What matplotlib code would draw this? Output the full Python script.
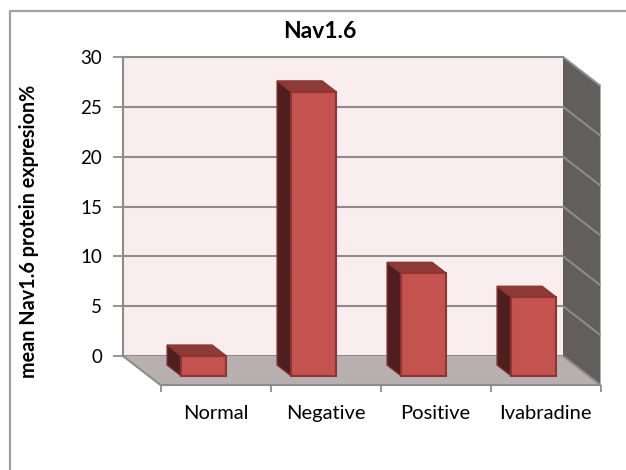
import matplotlib
matplotlib.use("Agg")
import matplotlib.pyplot as plt
from matplotlib.patches import Polygon
from matplotlib.transforms import ScaledTranslation

categories = ["Normal", "Negative", "Positive", "Ivabradine"]
values = [2.0, 28.5, 10.3, 7.9]
yticks = [0, 5, 10, 15, 20, 25, 30]

plt.rcParams["font.family"] = ["Lato", "DejaVu Sans"]

W, H = 626, 470
fig = plt.figure(figsize=(W / 100, H / 100), dpi=100)

# frame round the whole chart, only top and left show
bg = fig.add_axes([0, 0, 1, 1])
bg.set_xlim(0, W)
bg.set_ylim(H, 0)
bg.axis("off")
bg.plot([9.5, 9.5, W], [H, 10.5, 10.5], color="#a0a0a0", lw=1.6)

# back wall of the 3d box
ax = fig.add_axes([123 / W, 1 - 356 / H, 440 / W, 299 / H])
ax.set_xlim(0, 4)
ax.set_ylim(0, 30)
ax.set_facecolor("#F9EDED")
for s in ["top", "right", "bottom"]:
    ax.spines[s].set_visible(False)
ax.spines["left"].set_color("#8c8c8c")
ax.spines["left"].set_linewidth(1.5)
ax.set_yticks(yticks)
ax.tick_params(axis="y", color="#8c8c8c", width=1.3, length=7, labelsize=13.5, pad=8)
ax.set_xticks([])
ax.grid(axis="y", color="#8c8c8c", lw=1.5, clip_on=False)
ax.set_axisbelow(True)


# depth is 0 at the wall and 1 at the front of the floor
def shift(d):
    return ax.transData + ScaledTranslation(37.5 * d / 100, -29 * d / 100, fig.dpi_scale_trans)


def poly(points, d_list, **kw):
    # points in data coords, each with own depth -> pixels
    pix = [shift(d).transform(p) for p, d in zip(points, d_list)]
    ax.add_patch(Polygon(pix, closed=len(pix) > 2, transform=None, clip_on=False, **kw))


# floor and right wall
poly([(0, 0), (4, 0), (4, 0), (0, 0)], [0, 0, 1, 1], fc="#B8B0B0", ec="none", zorder=1)
poly([(4, 0), (4, 30), (4, 30), (4, 0)], [0, 0, 1, 1], fc="#625E5C", ec="none", zorder=1)
for t in yticks:
    poly([(4, t), (4, t)], [0, 1], fc="none", ec="#8c8c8c", lw=1.5, zorder=2)

# front floor edge with ticks and category labels
poly([(0, 0), (4, 0)], [1, 1], fc="none", ec="#8c8c8c", lw=1.5, zorder=2)
poly([(0, 0), (0, 0)], [0, 1], fc="none", ec="#8c8c8c", lw=1.5, zorder=2)
tick_len = 7 / 9.97
for i in range(5):
    poly([(i, 0), (i, -tick_len)], [1, 1], fc="none", ec="#8c8c8c", lw=1.3, zorder=2)
for i, name in enumerate(categories):
    ax.text(i + 0.5, -2.0, name, transform=shift(1), ha="center", va="top", fontsize=14.5,
            clip_on=False)

# bars
width = 45 / 110
d1, d2 = 0.31, 0.69
for i, v in enumerate(values):
    x0 = i + 0.5 - width / 2
    x1 = x0 + width
    # left side
    poly([(x0, 0), (x0, v), (x0, v), (x0, 0)], [d1, d1, d2, d2], fc="#4E1F1E", ec="#7a2e2c", lw=1, zorder=3)
    # top
    poly([(x0, v), (x1, v), (x1, v), (x0, v)], [d1, d1, d2, d2], fc="#8E3A38", ec="#8a3634", lw=1, zorder=3)
    # front
    poly([(x0, 0), (x1, 0), (x1, v), (x0, v)], [d2] * 4, fc="#C4524F", ec="#8E3533", lw=1.5, zorder=4)

fig.text(320 / W, 1 - 31 / H, "Nav1.6", ha="center", va="center", fontsize=16.5, fontweight="bold")
fig.text(29 / W, 1 - 231.5 / H, "mean Nav1.6 protein expresion%", rotation=90, ha="center", va="center",
         fontsize=14.2, fontweight="bold")

fig.savefig("out.png", dpi=100)
